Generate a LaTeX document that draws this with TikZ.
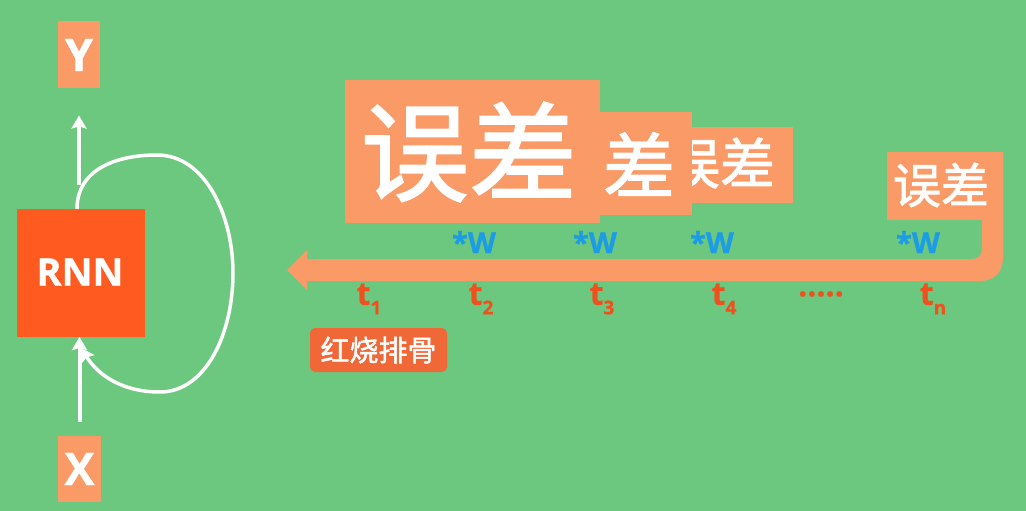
\documentclass[tikz,border=0pt]{standalone}
\usepackage{fontspec}
\newfontfamily\lat[BoldFeatures={FakeBold=0.8}]{Open Sans}
\newfontfamily\cjk[BoldFont={Noto Sans CJK SC},BoldFeatures={FakeBold=1.6}]{Noto Sans CJK SC}
\usetikzlibrary{arrows.meta}
\definecolor{bg}{RGB}{108,200,126}
\definecolor{peach}{RGB}{250,154,102}
\definecolor{rnnred}{RGB}{255,90,32}
\definecolor{tred}{RGB}{240,80,30}
\definecolor{wblue}{RGB}{28,156,228}
\definecolor{tagred}{RGB}{240,104,56}
\newcommand{\tsub}[1]{t\raisebox{-0.3em}{\fontsize{19}{19}\selectfont #1}}
\begin{document}
\begin{tikzpicture}[x=1pt,y=-1pt,
  pbox/.style={fill=peach,inner sep=0pt,outer sep=0pt},
  letter/.style={text=white,font=\lat\bfseries\fontsize{45}{45}\selectfont,inner sep=0pt},
  cjkw/.style={text=white,inner sep=0pt},
  wlab/.style={text=wblue,font=\lat\bfseries\fontsize{29}{29}\selectfont,inner sep=0pt},
  tlab/.style={text=tred,font=\lat\bfseries\fontsize{32}{32}\selectfont,inner sep=0pt},
  arr/.style={draw=white,line width=4pt,-{Stealth[width=15pt,length=13pt,inset=2pt]}},
  loopline/.style={draw=white,line width=3.5pt,-{Stealth[width=15pt,length=13pt,inset=2pt]}}]
\fill[bg] (0,0) rectangle (1026,511);
\useasboundingbox (0,0) rectangle (1026,511);

% left part
\node[pbox,minimum width=42pt,minimum height=67pt] (Y) at (79,55) {};
\node[letter] (Yt) at (Y.center) {Y};
\node[pbox,minimum width=43pt,minimum height=66pt] (X) at (79.5,469) {};
\node[letter] (Xt) at (X.center) {X};
\node[fill=rnnred,inner sep=0pt,outer sep=0pt,minimum width=128pt,minimum height=128pt] (rnn) at (81,273) {};
\node[text=white,font=\lat\bfseries\fontsize{38}{38}\selectfont,inner sep=0pt] (rnnt) at (80,272) {RNN};

\draw[arr,shorten <=24pt,shorten >=27pt] (Y.south |- rnn.north) -- (Y.south);
\draw[arr,shorten <=14pt] (X.north) -- (X.north |- rnn.south);
\coordinate (ls) at (77,209);
\coordinate (le) at (81,348);
\draw[loopline] (ls) .. controls (77,170) and (115,155) .. (157,155)
  .. controls (205,155) and (233,215) .. (233,273)
  .. controls (233,335) and (205,392) .. (160,392)
  .. controls (122,392) and (98,375) .. (le);

% error boxes
\node[pbox,minimum width=103pt,minimum height=76pt] (e3) at (741.5,165) {};
\node[cjkw,font=\cjk\bfseries\fontsize{55}{55}\selectfont] (e3t) at (720,163) {误差};
\node[pbox,minimum width=92pt,minimum height=103pt] (e2) at (646,163.5) {};
\node[cjkw,font=\cjk\bfseries\fontsize{72}{72}\selectfont] (e2t) at (639,164) {差};
\node[pbox,minimum width=255pt,minimum height=143pt] (e1) at (472.5,151.5) {};
\node[cjkw,font=\cjk\bfseries\fontsize{108}{108}\selectfont] (e1t) at (469,152) {误差};

% band arrow with last box
\node[pbox,minimum width=116pt,minimum height=68pt] (e4) at (945,186) {};
\fill[peach] (e4.north east) -- (1003,258) .. controls (1003,272) and (994,281) .. (980,281)
  -- (307,281) -- (307,290) -- (287,270) -- (307,250) -- (307,259)
  -- (972,259) .. controls (978,259) and (982,255) .. (982,249) -- (982,219) -- cycle;
\node[cjkw,font=\cjk\bfseries\fontsize{48}{48}\selectfont] (e4t) at (941,185) {误差};

% *W labels
\node[wlab] (w1) at (474,242) {*W};
\node[wlab] (w2) at (595,242) {*W};
\node[wlab] (w3) at (712,242) {*W};
\node[wlab] (w4) at (918,242) {*W};

% time labels
\node[tlab] (t1) at (369,299) {\tsub{1}};
\node[tlab] (t2) at (481,299) {\tsub{2}};
\node[tlab] (t3) at (602,299) {\tsub{3}};
\node[tlab] (t4) at (724,299) {\tsub{4}};
\node[tlab] (td) at (821,294) {.....};
\node[tlab] (tn) at (933,299) {\tsub{n}};

% tag
\node[fill=tagred,rounded corners=5pt,minimum width=137pt,minimum height=44pt,inner sep=0pt,
  text=white,font=\cjk\bfseries\fontsize{29}{29}\selectfont] (tag) at (378.5,350) {红烧排骨};
\end{tikzpicture}
\end{document}
